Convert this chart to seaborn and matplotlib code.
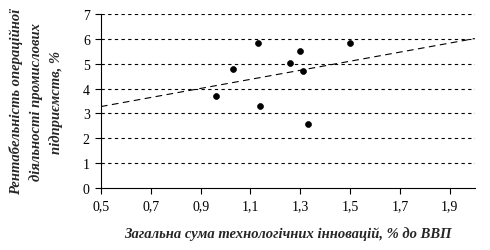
import numpy as np
import pandas as pd
import matplotlib
matplotlib.use("Agg")
import matplotlib.pyplot as plt
import seaborn as sns
from matplotlib.ticker import FuncFormatter

x_vals = [0.96, 1.03, 1.13, 1.14, 1.26, 1.30, 1.31, 1.33, 1.50]
y_vals = [3.70, 4.81, 5.83, 3.30, 5.02, 5.52, 4.73, 2.58, 5.83]
x_ticks = [0.5, 0.7, 0.9, 1.1, 1.3, 1.5, 1.7, 1.9]
y_ticks = [0, 1, 2, 3, 4, 5, 6, 7]
x_label = "Загальна сума технологічних інновацій, % до ВВП"
y_label = "Рентабельність операційної\nдіяльності промислових\nпідприємств, %"

sns.set_style("white")
plt.rcParams['font.family'] = ['Liberation Serif', 'DejaVu Serif']

df = pd.DataFrame({"x": x_vals, "y": y_vals})

fig = plt.figure(figsize=(4.9, 2.51), dpi=100)
ax = fig.add_axes([0.206, 0.248, 0.763, 0.691])

xlim = (0.5, 2.0)
ax.set_xlim(*xlim)
ax.set_ylim(0, 7)

for yv in y_ticks[1:]:
    ax.axhline(yv, color="black", lw=0.8, ls=(0, (3, 3)), zorder=1)

coef = np.polyfit(df["x"], df["y"], 1)
xs = np.array(xlim)
ax.plot(xs, np.polyval(coef, xs), color="black", lw=0.8, ls=(0, (6, 4)), zorder=2)

sns.scatterplot(data=df, x="x", y="y", ax=ax, color="black", s=18,
                marker="o", edgecolor="black", linewidth=0.5, zorder=3)

ax.set_xticks(x_ticks)
ax.set_yticks(y_ticks)
ax.xaxis.set_major_formatter(FuncFormatter(lambda v, p: f"{v:.1f}".replace(".", ",")))
ax.yaxis.set_major_formatter(FuncFormatter(lambda v, p: f"{int(round(v))}"))
ax.tick_params(axis="both", direction="out", length=4, width=0.8, color="black",
               labelsize=10, labelcolor="black", pad=4, bottom=True, left=True)

for s in ["top", "right"]:
    ax.spines[s].set_visible(False)
for s in ["left", "bottom"]:
    ax.spines[s].set_color("black")
    ax.spines[s].set_linewidth(0.8)

ax.set_xlabel(x_label, fontsize=10.5, fontweight="bold", fontstyle="italic", labelpad=10)
ax.set_ylabel(y_label, fontsize=10.5, fontweight="bold", fontstyle="italic",
              labelpad=14, linespacing=1.6)

fig.savefig("out.png", dpi=100)
